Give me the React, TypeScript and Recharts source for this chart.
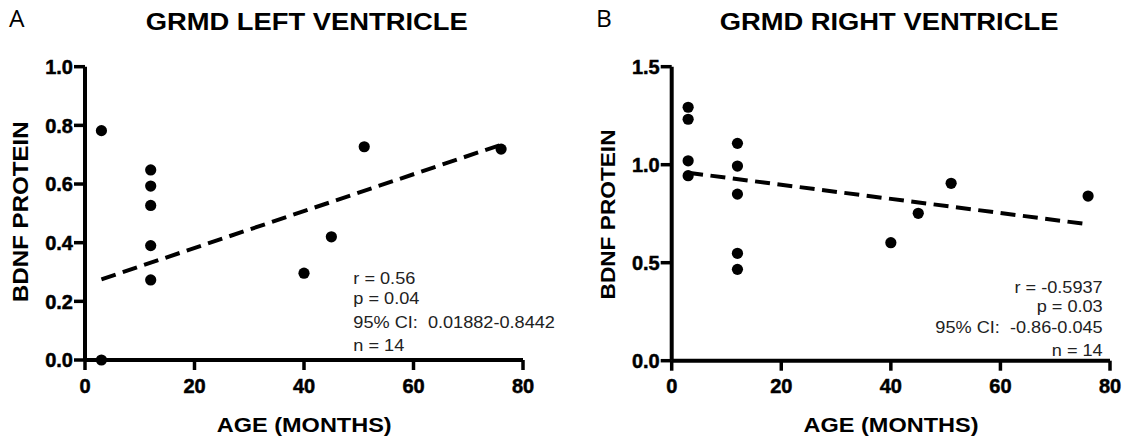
import React from 'react'
import {
  ScatterChart,
  Scatter,
  XAxis,
  YAxis,
  ReferenceLine,
} from 'recharts'

const FONT = '"Liberation Sans", Arial, Helvetica, sans-serif'

// axis ticks
const ageTicks = [0, 20, 40, 60, 80]
const leftTicks = [0, 0.2, 0.4, 0.6, 0.8, 1.0]
const rightTicks = [0, 0.5, 1.0, 1.5]

// left ventricle points
const leftAge = [3, 3, 12, 12, 12, 12, 12, 40, 45, 51, 76]
const leftBdnf = [0.782, 0, 0.648, 0.593, 0.527, 0.39, 0.273, 0.296, 0.42, 0.727, 0.719]

// right ventricle points
const rightAge = [3, 3, 3, 3, 12, 12, 12, 12, 12, 40, 45, 51, 76]
const rightBdnf = [1.293, 1.232, 1.02, 0.944, 1.109, 0.993, 0.85, 0.548, 0.466, 0.602, 0.752, 0.905, 0.84]

// regression lines (end points)
const leftFitAge = [3, 76]
const leftFitBdnf = [0.275, 0.734]
const rightFitAge = [3, 76]
const rightFitBdnf = [0.959, 0.696]

const leftStats = ['r = 0.56', 'p = 0.04', '95% CI:  0.01882-0.8442', 'n = 14']
const rightStats = ['r = -0.5937', 'p = 0.03', '95% CI:  -0.86-0.045', 'n = 14']

const X_TICK = 10
const X_GAP = 8
const Y_TICK = 11
const Y_GAP = 1

const toPoints = (xs: number[], ys: number[]) => xs.map((x, i) => ({ x, y: ys[i] }))

const Dot = (props: any) => <circle cx={props.cx} cy={props.cy} r={5.6} fill="#000" />

// tick mark + label drawn together so the stroke width is under control
const XTick = (props: any) => {
  const top = props.y - X_GAP - X_TICK
  return (
    <g>
      <line x1={props.x} y1={top} x2={props.x} y2={top + X_TICK} stroke="#000" strokeWidth={3.5} />
      <text
        x={props.x}
        y={props.y + 14.5}
        textAnchor="middle"
        fill="#000"
        stroke="#000"
        strokeWidth={0.5}
        fontSize={20}
        fontWeight="bold"
        fontFamily={FONT}
      >
        {props.payload.value}
      </text>
    </g>
  )
}

const YTick = (props: any) => {
  const right = props.x + Y_GAP + Y_TICK
  return (
    <g>
      <line x1={right - Y_TICK} y1={props.y} x2={right} y2={props.y} stroke="#000" strokeWidth={3.5} />
      <text
        x={props.x}
        y={props.y + 7.2}
        textAnchor="end"
        fill="#000"
        stroke="#000"
        strokeWidth={0.5}
        fontSize={20}
        fontWeight="bold"
        fontFamily={FONT}
      >
        {Number(props.payload.value).toFixed(1)}
      </text>
    </g>
  )
}

function Panel({
  width,
  yWidth,
  right,
  bottom,
  yMax,
  yTicks,
  points,
  fit,
}: {
  width: number
  yWidth: number
  right: number
  bottom: number
  yMax: number
  yTicks: number[]
  points: { x: number; y: number }[]
  fit: { x: number; y: number }[]
}) {
  return (
    <ScatterChart
      width={width}
      height={436}
      margin={{ top: 66.7, right, bottom: 0, left: 0 }}
    >
      <XAxis
        type="number"
        dataKey="x"
        domain={[0, 80]}
        ticks={ageTicks}
        interval={0}
        height={bottom}
        tick={XTick}
        tickSize={X_TICK}
        tickMargin={X_GAP}
        axisLine={false}
        tickLine={false}
      />
      <YAxis
        type="number"
        dataKey="y"
        domain={[0, yMax]}
        ticks={yTicks}
        interval={0}
        width={yWidth}
        tick={YTick}
        tickSize={Y_TICK}
        tickMargin={Y_GAP}
        axisLine={false}
        tickLine={false}
      />
      <ReferenceLine y={0} stroke="#000" strokeWidth={4} ifOverflow="visible" />
      <ReferenceLine x={0} stroke="#000" strokeWidth={4} ifOverflow="visible" />
      <ReferenceLine
        segment={fit}
        stroke="#000"
        strokeWidth={4}
        strokeDasharray="15 7.5"
        ifOverflow="visible"
      />
      <Scatter data={points} shape={Dot} isAnimationActive={false} />
    </ScatterChart>
  )
}

export default function App() {
  const stretch = (x: number, y: number, sx: number) => `translate(${x},${y}) scale(${sx},1)`
  return (
    <div style={{ position: 'absolute', left: 0, top: 0, width: 1126, height: 436, background: '#fff' }}>
      <div style={{ position: 'absolute', left: 0, top: 0 }}>
        <Panel
          width={560}
          yWidth={85}
          right={37}
          bottom={76}
          yMax={1}
          yTicks={leftTicks}
          points={toPoints(leftAge, leftBdnf)}
          fit={toPoints(leftFitAge, leftFitBdnf)}
        />
      </div>
      <div style={{ position: 'absolute', left: 560, top: 0 }}>
        <Panel
          width={566}
          yWidth={111.7}
          right={16}
          bottom={75.3}
          yMax={1.5}
          yTicks={rightTicks}
          points={toPoints(rightAge, rightBdnf)}
          fit={toPoints(rightFitAge, rightFitBdnf)}
        />
      </div>
      <svg
        width={1126}
        height={436}
        style={{ position: 'absolute', left: 0, top: 0, pointerEvents: 'none' }}
      >
        <g fontFamily={FONT} fill="#000">
          <text x={9} y={26.8} fontFamily='"Open Sans", sans-serif' fontSize={24.5}>A</text>
          <text x={596} y={26.8} fontFamily='"Open Sans", sans-serif' fontSize={24.5}>B</text>

          <text transform={stretch(306.7, 30.3, 1.14)} textAnchor="middle" fontSize={24} fontWeight="bold">
            GRMD LEFT VENTRICLE
          </text>
          <text transform={stretch(889, 30.3, 1.14)} textAnchor="middle" fontSize={24} fontWeight="bold">
            GRMD RIGHT VENTRICLE
          </text>

          <text transform={stretch(304.2, 431.5, 1.12)} textAnchor="middle" fontSize={21} fontWeight="bold">
            AGE (MONTHS)
          </text>
          <text transform={stretch(891, 431.5, 1.12)} textAnchor="middle" fontSize={21} fontWeight="bold">
            AGE (MONTHS)
          </text>

          <text transform={`translate(28.2,211.7) rotate(-90) scale(1.12,1)`} textAnchor="middle" fontSize={21.5} fontWeight="bold">
            BDNF PROTEIN
          </text>
          <text transform={`translate(615,214.5) rotate(-90) scale(1.08,1)`} textAnchor="middle" fontSize={21} fontWeight="bold">
            BDNF PROTEIN
          </text>

          {leftStats.map((s, i) => (
            <text
              key={'l' + i}
              transform={stretch(353.3, [277.7, 298.5, 321.7, 345.3][i] + 5.9, 1.1)}
              fontSize={16.5}
              fill="#222"
              style={{ whiteSpace: 'pre' }}
            >
              {s}
            </text>
          ))}
          {rightStats.map((s, i) => (
            <text
              key={'r' + i}
              transform={stretch(1102.7, [286.7, 306.5, 327, 349.7][i] + 5.9, 1.1)}
              textAnchor="end"
              fontSize={16.5}
              fill="#222"
              style={{ whiteSpace: 'pre' }}
            >
              {s}
            </text>
          ))}
        </g>
      </svg>
    </div>
  )
}
